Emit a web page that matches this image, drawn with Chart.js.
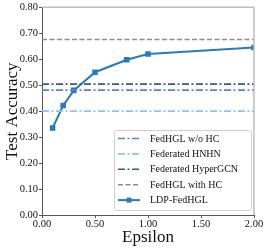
<!DOCTYPE html>
<html lang="en">
<head>
  <meta charset="UTF-8">
  <title>Epsilon vs Test Accuracy</title>
  <script src="https://cdn.jsdelivr.net/npm/chart.js"></script>
  <style>
    body { margin: 0; background: #fff; }
    #wrap { width: 266px; height: 248px; }
  </style>
</head>
<body>
  <div id="wrap"><canvas id="chart"></canvas></div>
  <script>
    // values
    const epsilons = [0.1, 0.2, 0.3, 0.5, 0.8, 1.0, 2.0];
    const ldpAcc = [0.335, 0.422, 0.48, 0.55, 0.598, 0.62, 0.645];
    const baselineNames = ['FedHGL w/o HC', 'Federated HNHN', 'Federated HyperGCN', 'FedHGL with HC'];
    const baselineAcc = [0.481, 0.40, 0.504, 0.676];
    const xRange = [0, 2];

    const serif = '"Liberation Serif", "DejaVu Serif", serif';
    const dashDot = [7, 2.5, 2, 2.5];
    const baseStyles = [
      { color: '#5b7fd9', dash: dashDot },
      { color: '#8cc0ff', dash: dashDot },
      { color: '#2b5d8a', dash: dashDot },
      { color: '#8c8c8c', dash: [5, 2.5] }
    ];

    const datasets = baselineNames.map((name, i) => ({
      label: name,
      data: xRange.map(x => ({ x: x, y: baselineAcc[i] })),
      borderColor: baseStyles[i].color,
      borderDash: baseStyles[i].dash,
      borderWidth: 1.6,
      pointRadius: 0,
      fill: false
    }));
    datasets.push({
      label: 'LDP-FedHGL',
      data: epsilons.map((e, i) => ({ x: e, y: ldpAcc[i] })),
      borderColor: '#2a7ab8',
      backgroundColor: '#2a7ab8',
      borderWidth: 2,
      pointStyle: 'rect',
      pointRadius: 2.5,
      fill: false
    });

    // top/right light frame + legend inside the plot
    const framePlugin = {
      id: 'frame',
      afterDraw(chart) {
        const c = chart.ctx, a = chart.chartArea;
        c.save();
        c.strokeStyle = '#bdbdbd';
        c.lineWidth = 1.5;
        c.beginPath();
        c.moveTo(a.left, a.top);
        c.lineTo(a.right, a.top);
        c.lineTo(a.right, a.bottom);
        c.stroke();

        const w = 137, h = 80;
        const x0 = a.right - w - 3, y0 = a.bottom - h - 5;
        c.fillStyle = 'rgba(255,255,255,0.9)';
        c.strokeStyle = '#cfcfcf';
        c.lineWidth = 1;
        c.beginPath();
        c.roundRect(x0 + 0.5, y0 + 0.5, w, h, 2);
        c.fill();
        c.stroke();

        c.font = '10px ' + serif;
        c.textBaseline = 'middle';
        chart.data.datasets.forEach((ds, i) => {
          const y = y0 + 8.5 + i * 15.4;
          c.strokeStyle = ds.borderColor;
          c.lineWidth = ds.borderWidth;
          c.setLineDash(ds.borderDash || []);
          c.beginPath();
          c.moveTo(x0 + 4, y);
          c.lineTo(x0 + 26, y);
          c.stroke();
          c.setLineDash([]);
          if (ds.pointRadius) {
            c.fillStyle = ds.borderColor;
            c.fillRect(x0 + 15 - 2.5, y - 2.5, 5, 5);
          }
          c.fillStyle = '#111';
          c.fillText(ds.label, x0 + 36, y + 0.5);
        });
        c.restore();
      }
    };

    new Chart(document.getElementById('chart'), {
      type: 'line',
      data: { datasets: datasets },
      plugins: [framePlugin],
      options: {
        responsive: true,
        maintainAspectRatio: false,
        animation: false,
        layout: { padding: { left: 0, top: 4, right: 12, bottom: 0 } },
        plugins: { legend: { display: false }, tooltip: { enabled: false } },
        scales: {
          x: {
            type: 'linear',
            min: 0, max: 2,
            afterFit(s) { s.height = 33; },
            border: { color: '#555', width: 1 },
            grid: { drawOnChartArea: false, tickLength: 3, color: '#555' },
            ticks: {
              stepSize: 0.5, color: '#111', padding: 0, maxRotation: 0,
              font: { family: serif, size: 10.5 },
              callback: v => v.toFixed(2)
            },
            title: { display: true, text: 'Epsilon', color: '#111',
                     font: { family: serif, size: 17 }, padding: { top: 0, bottom: 0 } }
          },
          y: {
            min: 0, max: 0.8,
            afterFit(s) { s.width = 42; },
            border: { color: '#555', width: 1 },
            grid: { drawOnChartArea: false, tickLength: 3, color: '#555' },
            ticks: {
              stepSize: 0.1, color: '#111', padding: 1,
              font: { family: serif, size: 10.5 },
              callback: v => v.toFixed(2)
            },
            title: { display: true, text: 'Test Accuracy', color: '#111',
                     font: { family: serif, size: 17 }, padding: { top: 2, bottom: 0 } }
          }
        }
      }
    });
  </script>
</body>
</html>
